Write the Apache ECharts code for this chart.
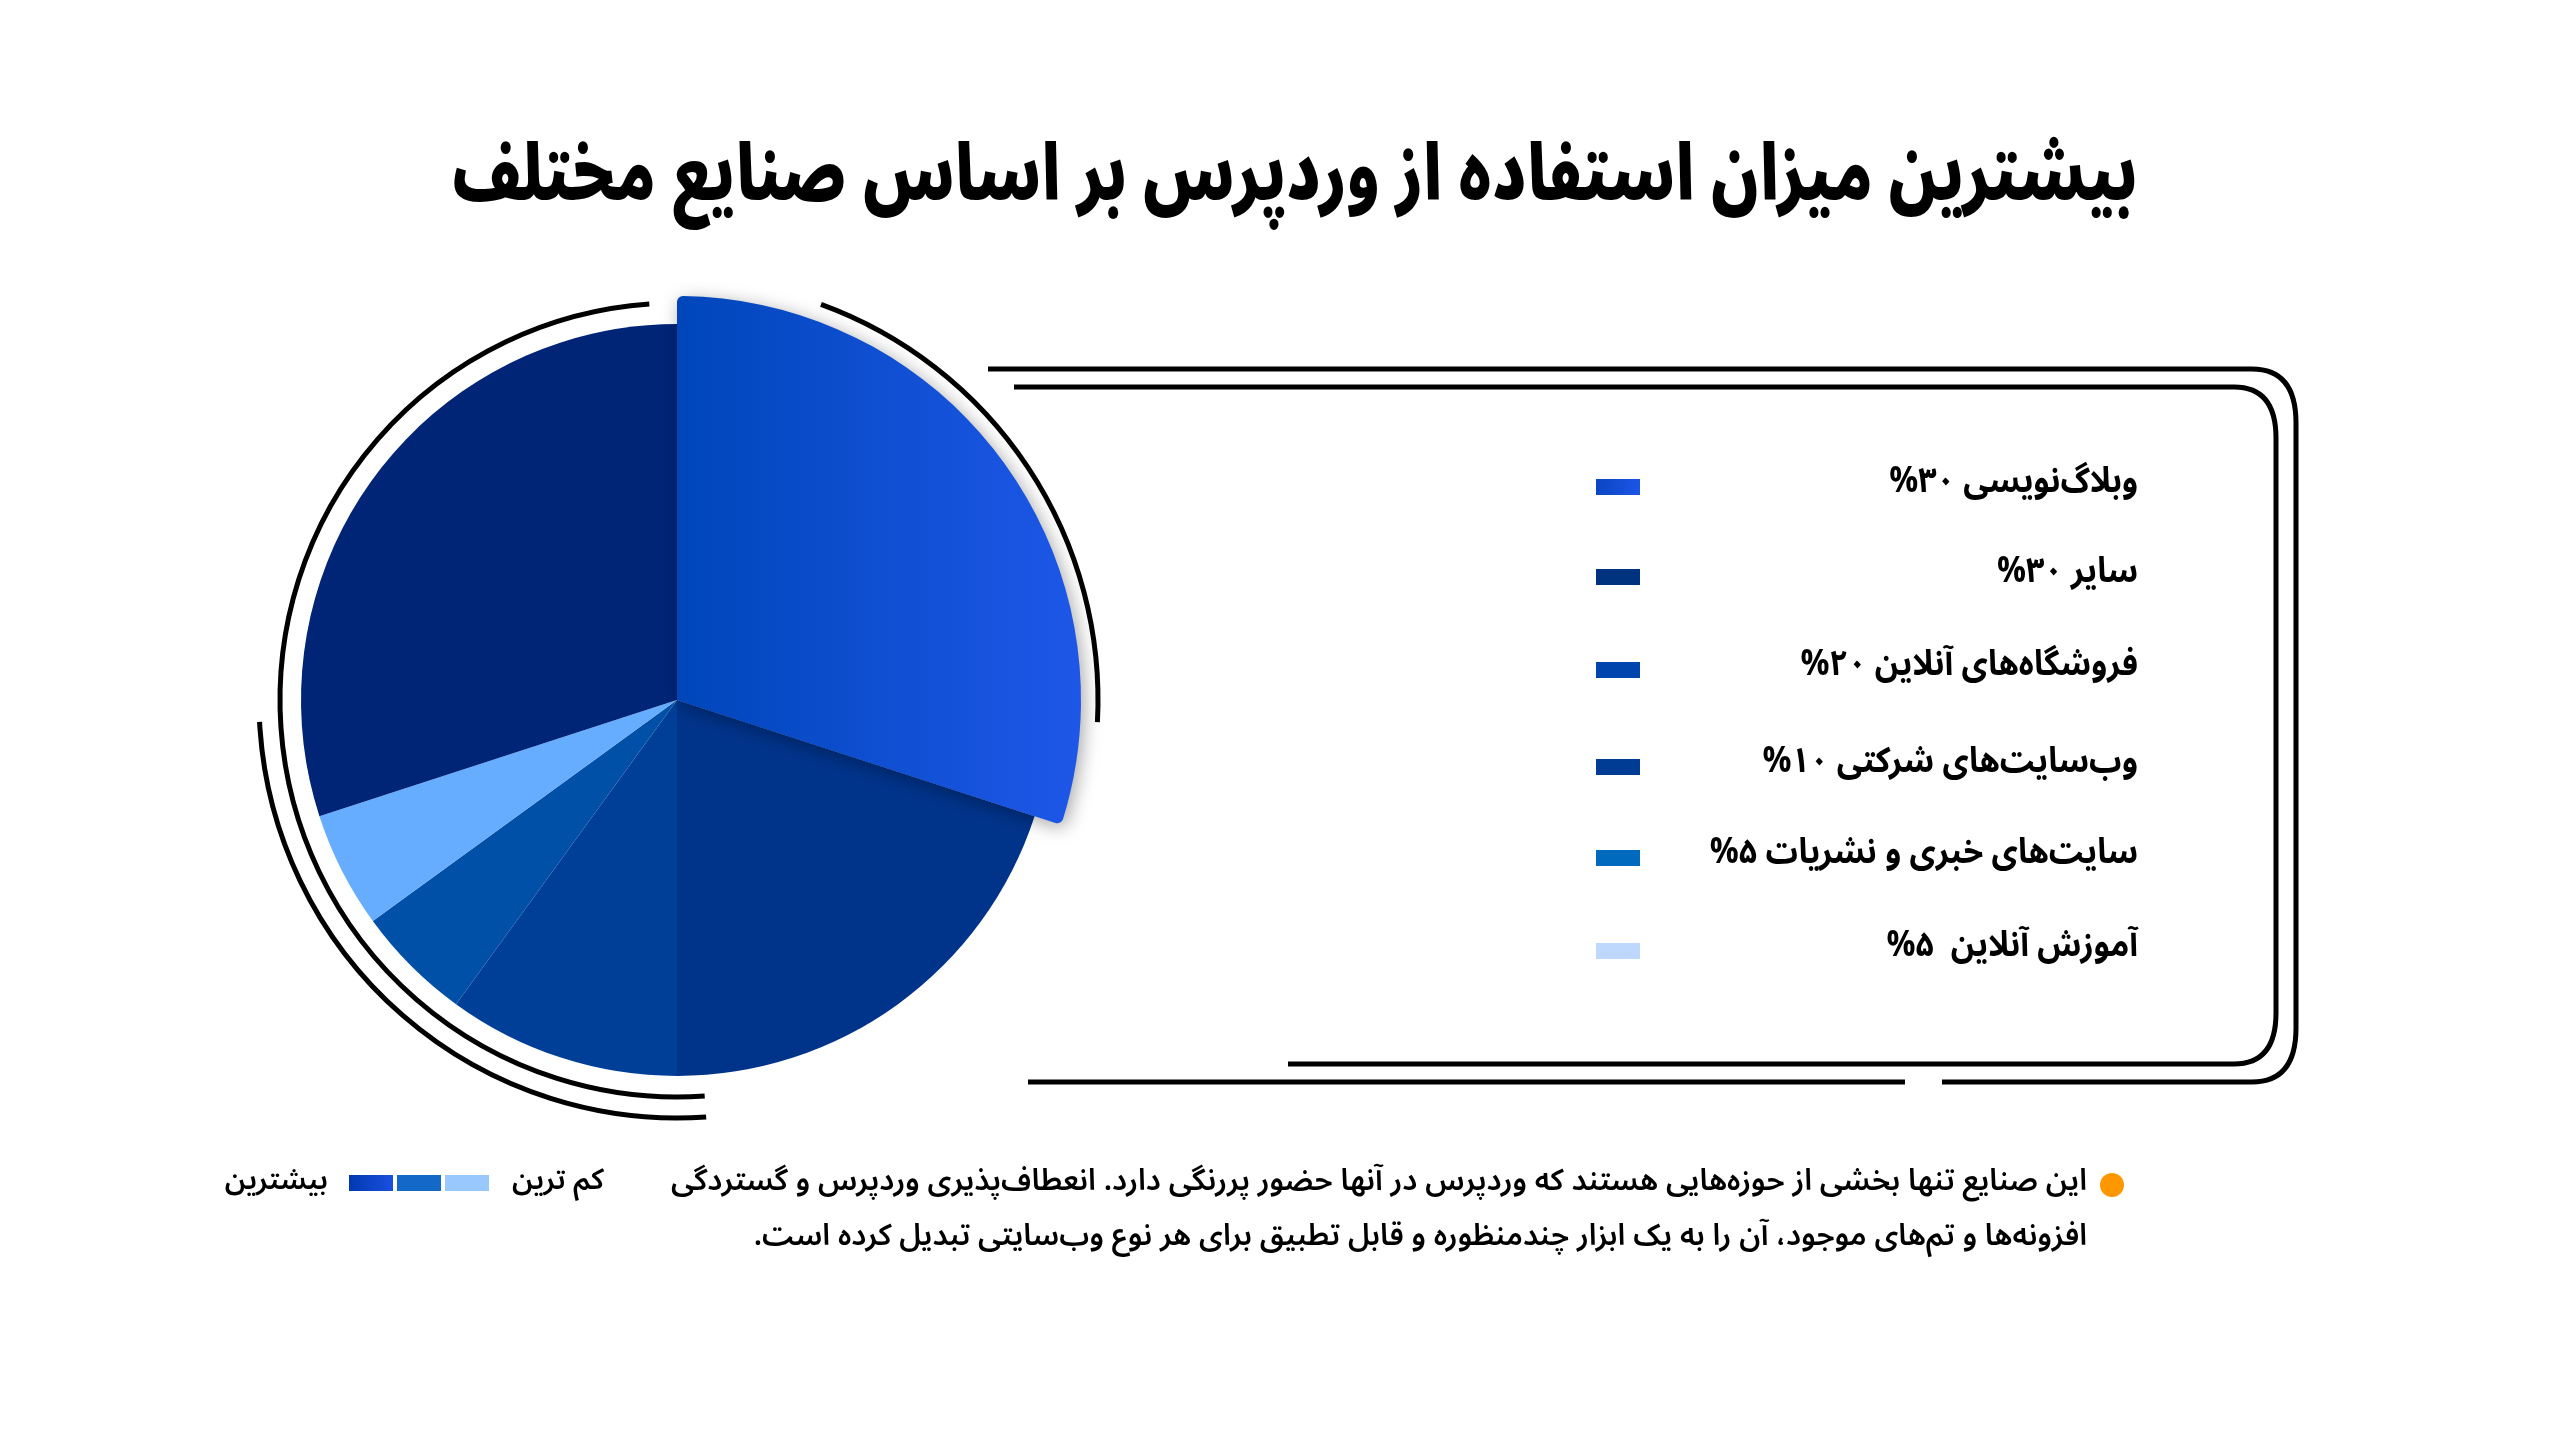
<!DOCTYPE html>
<html lang="fa" dir="rtl">
<head>
<meta charset="utf-8">
<script src="https://cdn.jsdelivr.net/npm/echarts/dist/echarts.min.js"></script>
<style>
html,body{margin:0;padding:0;background:#ffffff;}
#chart{width:2560px;height:1440px;}
</style>
</head>
<body>
<div id="chart"></div>
<script>
// ---- data ----
const titleText = 'بیشترین میزان استفاده از وردپرس بر اساس صنایع مختلف';
const categories = ['وبلاگ‌نویسی', 'فروشگاه‌های آنلاین', 'وب‌سایت‌های شرکتی', 'سایت‌های خبری و نشریات', 'آموزش آنلاین', 'سایر'];
const shares = [30, 20, 10, 5, 5, 30];
const legendOrder = [0, 5, 1, 2, 3, 4];
const legendLabels = ['وبلاگ‌نویسی ۳۰%', 'سایر ۳۰%', 'فروشگاه‌های آنلاین ۲۰%', 'وب‌سایت‌های شرکتی ۱۰%', 'سایت‌های خبری و نشریات ۵%', 'آموزش آنلاین  ۵%'];
const noteLines = [
  'این صنایع تنها بخشی از حوزه‌هایی هستند که وردپرس در آنها حضور پررنگی دارد. انعطاف‌پذیری وردپرس و گستردگی',
  'افزونه‌ها و تم‌های موجود، آن را به یک ابزار چندمنظوره و قابل تطبیق برای هر نوع وب‌سایتی تبدیل کرده است.'
];
const scaleLabels = ['بیشترین', 'کم ترین'];

// ---- styles ----
const FONT = "'Noto Sans Arabic','Vazirmatn','DejaVu Sans',sans-serif";
const blogGradient = (c1, c2) => new echarts.graphic.LinearGradient(0, 0, 1, 0, [{offset: 0, color: c1}, {offset: 1, color: c2}]);
const sliceColors = [blogGradient('#0046BA', '#1E57E8'), '#00338A', '#003F98', '#0050A8', '#66ADFF', '#002577'];
const legendColors = [blogGradient('#0A46C4', '#1C55E6'), '#00337F', '#0045AE', '#003C94', '#006BBE', '#BDD8FC'];
const scaleColors = [blogGradient('#0039B0', '#1A50E0'), '#1468C8', '#99C8FF'];

const CX = 677, CY = 700, R = 376, R_EXPLODE = 404;

const chart = echarts.init(document.getElementById('chart'), null, {renderer: 'canvas'});

const baseData = categories.map((name, i) => ({name, value: shares[i], itemStyle: {color: sliceColors[i]}}));
const explodeData = categories.map((name, i) => i === 0
  ? {name, value: shares[i], itemStyle: {color: sliceColors[i], borderRadius: 6, shadowBlur: 18, shadowColor: 'rgba(0,0,0,0.35)', shadowOffsetX: 3, shadowOffsetY: 4}}
  : {name, value: shares[i], itemStyle: {color: 'rgba(0,0,0,0)'}});

const g = [];
const LW = 5;
const stroke = {stroke: '#000', lineWidth: LW, fill: null};
const deg = d => d * Math.PI / 180;
function arc(r, a0, a1) {
  g.push({type: 'arc', silent: true, shape: {cx: CX, cy: CY, r, startAngle: deg(a0 - 90), endAngle: deg(a1 - 90), clockwise: true}, style: Object.assign({}, stroke)});
}
arc(397, 176, 356);
arc(418, 176, 267);
arc(421, 20, 93);

function line(x1, y1, x2, y2) {
  g.push({type: 'line', silent: true, shape: {x1, y1, x2, y2}, style: Object.assign({}, stroke)});
}
function curve(x1, y1, cx, cy, x2, y2) {
  g.push({type: 'bezierCurve', silent: true, shape: {x1, y1, cpx1: cx, cpy1: cy, x2, y2}, style: Object.assign({}, stroke)});
}
// outer frame
line(988, 369, 2252, 369);
curve(2252, 369, 2296, 369, 2296, 423);
line(2296, 423, 2296, 1028);
curve(2296, 1028, 2296, 1082, 2252, 1082);
line(2252, 1082, 1942, 1082);
line(1905, 1082, 1028, 1082);
// inner frame
line(1014, 387, 2234, 387);
curve(2234, 387, 2276, 387, 2276, 438);
line(2276, 438, 2276, 1013);
curve(2276, 1013, 2276, 1064, 2234, 1064);
line(2234, 1064, 1288, 1064);

// legend
const legendY = [487, 577, 670, 767, 858, 951];
legendOrder.forEach((idx, k) => {
  g.push({type: 'rect', silent: true, shape: {x: 1596, y: legendY[k] - 8, width: 44, height: 16}, style: {fill: legendColors[k]}});
  g.push({type: 'text', silent: true, x: 2138, y: legendY[k], scaleX: 0.92, style: {text: legendLabels[k], font: `bold 35px ${FONT}`, fill: '#000', align: 'right', verticalAlign: 'middle'}});
});

// title
g.push({type: 'text', silent: true, x: 1295, y: 188, scaleX: 0.807, style: {text: titleText, font: `900 77px ${FONT}`, fill: '#000', align: 'center', verticalAlign: 'middle'}});

// footnote
g.push({type: 'circle', silent: true, shape: {cx: 2112, cy: 1185, r: 12}, style: {fill: '#FF9800'}});
noteLines.forEach((t, i) => {
  g.push({type: 'text', silent: true, x: 2087, y: 1185 + i * 55, style: {text: t, font: `600 30px ${FONT}`, fill: '#000', align: 'right', verticalAlign: 'middle'}});
});
// intensity scale
g.push({type: 'text', silent: true, x: 328, y: 1185, style: {text: scaleLabels[0], font: `600 29px ${FONT}`, fill: '#000', align: 'right', verticalAlign: 'middle'}});
g.push({type: 'text', silent: true, x: 604, y: 1185, style: {text: scaleLabels[1], font: `600 29px ${FONT}`, fill: '#000', align: 'right', verticalAlign: 'middle'}});
[349, 397, 445].forEach((x, i) => {
  g.push({type: 'rect', silent: true, shape: {x, y: 1175, width: 44, height: 16}, style: {fill: scaleColors[i]}});
});

chart.setOption({
  backgroundColor: '#ffffff',
  animation: false,
  series: [
    {
      type: 'pie', z: 2, center: [CX, CY], radius: [0, R], startAngle: 90, clockwise: true,
      label: {show: false}, labelLine: {show: false}, silent: true,
      data: baseData
    },
    {
      type: 'pie', z: 3, center: [CX, CY], radius: [0, R_EXPLODE], startAngle: 90, clockwise: true,
      label: {show: false}, labelLine: {show: false}, silent: true,
      data: explodeData
    }
  ],
  graphic: {elements: g}
});
</script>
</body>
</html>
